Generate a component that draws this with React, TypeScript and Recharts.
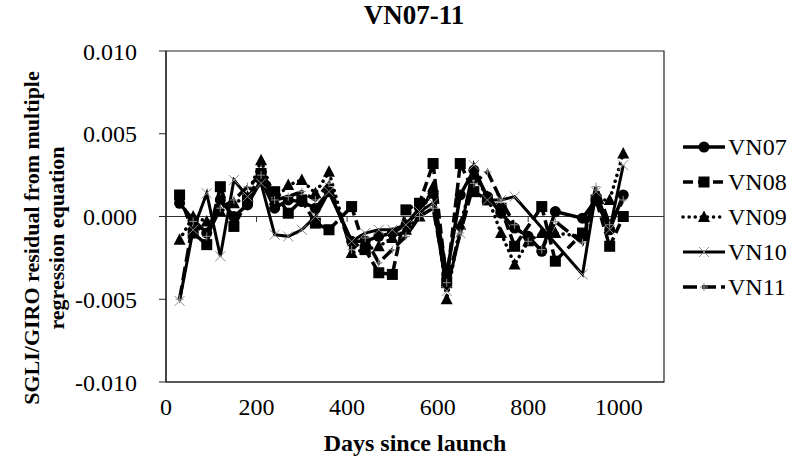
import React from "react";
import {
  LineChart, Line, XAxis, YAxis, Legend, ReferenceLine, ReferenceArea,
} from "recharts";

// days since launch for each sample
const days = [30, 60, 90, 120, 150, 180, 210, 240, 270, 300, 330, 360, 410, 440, 470, 500, 530, 560, 590, 620, 650, 680, 710, 740, 770, 800, 830, 860, 890, 920, 950, 980, 1010];

// residuals per satellite (null = no sample)
const vn07 = [0.0008, -0.0002, -0.0010, 0.0010, 0.0000, 0.0007, 0.0022, 0.0005, 0.0010, 0.0009, 0.0005, 0.0015, -0.0015, -0.0015, -0.0012, -0.0010, -0.0005, 0.0005, 0.0014, -0.0035, 0.0013, 0.0028, 0.0012, 0.0002, -0.0007, -0.0012, -0.0021, 0.0003, null, -0.0001, 0.0010, -0.0008, 0.0013];
const vn08 = [0.0013, -0.0010, -0.0017, 0.0018, -0.0006, 0.0010, 0.0026, 0.0015, 0.0002, 0.0010, -0.0004, -0.0008, 0.0006, -0.0020, -0.0034, -0.0035, 0.0004, 0.0008, 0.0032, -0.0040, 0.0032, 0.0015, 0.0010, 0.0005, -0.0018, null, 0.0006, -0.0027, null, -0.0010, 0.0010, -0.0018, 0.0000];
const vn09 = [-0.0014, 0.0000, -0.0003, 0.0003, 0.0008, 0.0012, 0.0034, 0.0010, 0.0019, 0.0022, 0.0014, 0.0027, -0.0022, -0.0020, -0.0018, -0.0013, -0.0008, 0.0000, 0.0018, -0.0050, -0.0005, 0.0025, 0.0012, -0.0010, -0.0029, -0.0015, -0.0010, -0.0010, null, -0.0012, 0.0010, 0.0010, 0.0038];
const vn10 = [-0.0051, -0.0008, 0.0014, -0.0024, 0.0022, 0.0012, 0.0020, -0.0011, -0.0012, -0.0008, 0.0000, 0.0015, -0.0015, -0.0010, -0.0008, -0.0008, -0.0005, 0.0003, 0.0008, -0.0045, -0.0010, 0.0031, 0.0010, 0.0010, 0.0012, null, null, null, null, -0.0035, 0.0015, -0.0008, 0.0031];
const vn11 = [-0.0050, -0.0003, -0.0012, 0.0005, 0.0010, 0.0018, 0.0025, 0.0010, 0.0012, 0.0015, 0.0010, 0.0020, -0.0020, -0.0013, -0.0028, -0.0020, -0.0012, 0.0000, 0.0005, -0.0040, -0.0010, 0.0020, 0.0027, 0.0010, -0.0005, -0.0015, -0.0020, -0.0003, null, -0.0016, 0.0018, -0.0005, 0.0010];

const xTicks = [0, 200, 400, 600, 800, 1000];
const yTicks = [-0.01, -0.005, 0, 0.005, 0.01];

const data = days.map((d, i) => ({
  day: d,
  VN07: vn07[i],
  VN08: vn08[i],
  VN09: vn09[i],
  VN10: vn10[i],
  VN11: vn11[i],
}));

const FONT = "'Liberation Serif', 'Times New Roman', serif";

type MarkerKind = "circle" | "square" | "triangle" | "cross" | "plus";

function Marker({ kind, cx, cy }: { kind: MarkerKind; cx: number; cy: number }) {
  switch (kind) {
    case "circle":
      return <circle cx={cx} cy={cy} r={5.5} fill="#000" />;
    case "square":
      return <rect x={cx - 5.5} y={cy - 5.5} width={11} height={11} fill="#000" />;
    case "triangle":
      return <path d={`M${cx},${cy - 6.5} L${cx + 6},${cy + 5} L${cx - 6},${cy + 5} Z`} fill="#000" />;
    case "cross":
      return (
        <path d={`M${cx - 5},${cy - 5} L${cx + 5},${cy + 5} M${cx - 5},${cy + 5} L${cx + 5},${cy - 5}`}
          stroke="#8a8a8a" strokeWidth={1} fill="none" />
      );
    default:
      return (
        <path d={`M${cx - 4},${cy} L${cx + 4},${cy} M${cx},${cy - 4} L${cx},${cy + 4}`}
          stroke="#8a8a8a" strokeWidth={1} fill="none" />
      );
  }
}

const SERIES: { key: string; marker: MarkerKind; dash?: string; width: number; cap?: "round" | "butt" }[] = [
  { key: "VN07", marker: "circle", width: 3.5 },
  { key: "VN08", marker: "square", dash: "10 5", width: 3.5 },
  { key: "VN09", marker: "triangle", dash: "0.1 6", width: 3.5, cap: "round" },
  { key: "VN10", marker: "cross", width: 3 },
  { key: "VN11", marker: "plus", dash: "14 5", width: 3.5 },
];

function makeDot(kind: MarkerKind) {
  return (p: any) => {
    if (p.cx == null || p.cy == null || p.value == null) return <g key={p.index} />;
    return <Marker key={p.index} kind={kind} cx={p.cx} cy={p.cy} />;
  };
}

function LegendBox() {
  return (
    <div style={{ fontFamily: FONT }}>
      {SERIES.map((s) => (
        <div key={s.key} style={{ display: "flex", alignItems: "center", height: 35 }}>
          <svg width={45} height={20} style={{ overflow: "visible" }}>
            <line x1={0} y1={10} x2={42} y2={10} stroke="#000" strokeWidth={s.width}
              strokeDasharray={s.dash} strokeLinecap={s.cap ?? "butt"} />
            <Marker kind={s.marker} cx={21} cy={10} />
          </svg>
          <span style={{ fontSize: 24, color: "#000", lineHeight: "24px" }}>{s.key}</span>
        </div>
      ))}
    </div>
  );
}

function YTitle() {
  const cy = 238;
  return (
    <g fontFamily={FONT} fontWeight="bold" fontSize={22} fill="#000" textAnchor="middle">
      <text transform={`translate(39, ${cy}) rotate(-90)`}>SGLI/GIRO residual from multiple</text>
      <text transform={`translate(64, ${cy}) rotate(-90)`}>regression equation</text>
    </g>
  );
}

export default function App() {
  return (
    <div style={{ position: "relative", width: 794, height: 459, background: "#fff" }}>
      <style>{`body{margin:0}`}</style>
      <div style={{
        position: "absolute", top: 0, left: 0, width: 828, textAlign: "center",
        fontFamily: FONT, fontWeight: "bold", fontSize: 27, color: "#000", zIndex: 1,
      }}>
        VN07-11
      </div>
      <LineChart width={794} height={459} data={data}
        margin={{ top: 51, right: 130, bottom: 0, left: 0 }}>
        <ReferenceArea x1={0} x2={1100} y1={-0.01} y2={0.01} fill="none" stroke="#222" strokeWidth={1.2} ifOverflow="visible" />
        <XAxis dataKey="day" type="number" domain={[0, 1100]} ticks={xTicks} height={77}
          tickLine={false} tickSize={0} tickMargin={16} axisLine={{ stroke: "#222", strokeWidth: 1.2 }}
          tick={{ fontSize: 24, fill: "#000", fontFamily: FONT }}
          label={{ value: "Days since launch", position: "insideBottom", offset: 8, fontSize: 24, fontWeight: "bold", fill: "#000", fontFamily: FONT }} />
        <YAxis type="number" domain={[-0.01, 0.01]} ticks={yTicks} width={166}
          tickFormatter={(v: number) => v.toFixed(3)} tickSize={7} tickMargin={22}
          tickLine={{ stroke: "#222" }} axisLine={{ stroke: "#222", strokeWidth: 1.2 }}
          tick={{ fontSize: 24, fill: "#000", fontFamily: FONT }}
          label={{ content: YTitle }} />
        <ReferenceLine y={0} stroke="#333" strokeWidth={1} />
        {xTicks.slice(1).map((t) => (
          <ReferenceLine key={t} segment={[{ x: t, y: 0 }, { x: t, y: -0.00033 }]} stroke="#333" strokeWidth={1} />
        ))}
        {SERIES.map((s) => (
          <Line key={s.key} dataKey={s.key} type="linear" stroke="#000" strokeWidth={s.width}
            strokeDasharray={s.dash} strokeLinecap={s.cap ?? "butt"} connectNulls
            dot={makeDot(s.marker)} activeDot={false} isAnimationActive={false} />
        ))}
        <Legend layout="horizontal" verticalAlign="middle" align="center"
          content={() => <LegendBox />}
          wrapperStyle={{ position: "absolute", left: 683, top: 129, width: 111 }} />
      </LineChart>
    </div>
  );
}
